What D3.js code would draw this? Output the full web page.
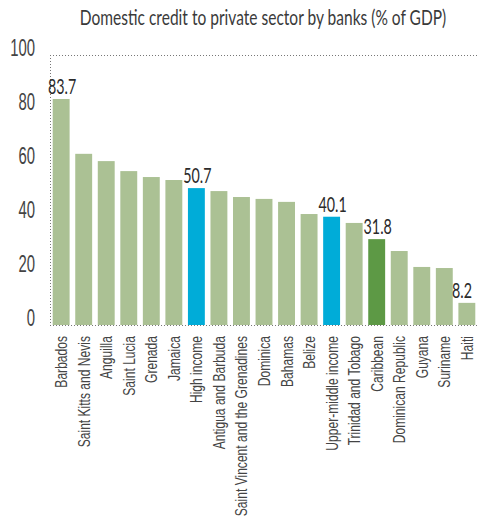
<!DOCTYPE html>
<html>
<head>
<meta charset="utf-8">
<script src="https://cdn.jsdelivr.net/npm/d3@7"></script>
<style>
  body { margin: 0; background: #fff; }
  svg { display: block; font-family: Lato, "Open Sans", sans-serif; }
</style>
</head>
<body>
<div id="chart"></div>
<script>
// values
const categories = [
  'Barbados', 'Saint Kitts and Nevis', 'Anguilla', 'Saint Lucia', 'Grenada', 'Jamaica',
  'High income', 'Antigua and Barbuda', 'Saint Vincent and the Grenadines', 'Dominica',
  'Bahamas', 'Belize', 'Upper-middle income', 'Trinidad and Tobago', 'Caribbean',
  'Dominican Republic', 'Guyana', 'Suriname', 'Haiti'
];
const values = [83.7, 63.4, 60.7, 57.0, 54.8, 53.7, 50.7, 49.6, 47.4, 46.7, 45.6, 41.1, 40.1, 37.8, 31.8, 27.4, 21.5, 21.1, 8.2];
const kinds = ['c', 'c', 'c', 'c', 'c', 'c', 'inc', 'c', 'c', 'c', 'c', 'c', 'inc', 'c', 'reg', 'c', 'c', 'c', 'c'];
const labelled = ['Barbados', 'High income', 'Upper-middle income', 'Caribbean', 'Haiti'];
const yTicks = [0, 20, 40, 60, 80, 100];
const title = 'Domestic credit to private sector by banks (% of GDP)';

const width = 478;
const height = 521;
const margin = { top: 55, right: 0, bottom: 196, left: 50 };

const colors = { c: '#abc194', inc: '#00acd8', reg: '#5d9945' };
// the original uses a condensed face; squeeze Lato horizontally instead
const squeeze = 0.71;

const data = categories.map((name, i) => ({ name, value: values[i], kind: kinds[i] }));

const svg = d3.select('#chart')
  .append('svg')
  .attr('width', width)
  .attr('height', height);

const xScale = d3.scaleBand()
  .domain(categories)
  .range([margin.left, width - margin.right])
  .paddingInner(0.25)
  .paddingOuter(0.12);

const yScale = d3.scaleLinear()
  .domain([0, 100])
  .range([height - margin.bottom, margin.top]);

// title
svg.append('text')
  .attr('transform', 'translate(263,25) scale(0.74,1)')
  .attr('text-anchor', 'middle')
  .attr('font-size', 21)
  .attr('fill', '#3a3a3a')
  .text(title);

// dotted frame: top line, left axis, baseline
const frame = svg.append('g')
  .attr('stroke', '#777')
  .attr('stroke-width', 1)
  .attr('stroke-dasharray', '1,2');
frame.append('line')
  .attr('x1', margin.left).attr('x2', width)
  .attr('y1', yScale(100) + 0.5).attr('y2', yScale(100) + 0.5);
frame.append('line')
  .attr('x1', margin.left + 0.5).attr('x2', margin.left + 0.5)
  .attr('y1', yScale(100)).attr('y2', yScale(0));
frame.append('line')
  .attr('x1', margin.left).attr('x2', width)
  .attr('y1', yScale(0) + 0.5).attr('y2', yScale(0) + 0.5);

// y tick labels
const yAxis = svg.append('g')
  .attr('transform', `translate(${margin.left - 15}, 0)`)
  .call(d3.axisLeft(yScale).tickValues(yTicks).tickSize(0).tickPadding(0));
yAxis.select('.domain').remove();
yAxis.selectAll('text')
  .attr('dy', 0)
  .attr('font-family', null)
  .attr('font-size', 24)
  .attr('font-weight', 300)
  .attr('fill', '#444')
  .attr('transform', 'scale(0.62,1)');

// bars
svg.append('g')
  .selectAll('rect')
  .data(data)
  .join('rect')
  .attr('x', (d) => xScale(d.name))
  .attr('y', (d) => yScale(d.value))
  .attr('width', xScale.bandwidth())
  .attr('height', (d) => yScale(0) - yScale(d.value))
  .attr('fill', (d) => colors[d.kind]);

// value labels
svg.append('g')
  .selectAll('text')
  .data(data.filter((d) => labelled.includes(d.name)))
  .join('text')
  .attr('transform', (d) => {
    const x = Math.min(xScale(d.name) + xScale.bandwidth() / 2 + 1, width - 16);
    return `translate(${x},${yScale(d.value) - 5}) scale(0.68,1)`;
  })
  .attr('text-anchor', 'middle')
  .attr('font-size', 21)
  .attr('fill', '#2b2b2b')
  .text((d) => d.value.toFixed(1));

// category labels
const xAxis = svg.append('g')
  .attr('transform', `translate(0, ${yScale(0) + 11})`)
  .call(d3.axisBottom(xScale).tickSize(0).tickPadding(0));
xAxis.select('.domain').remove();
xAxis.selectAll('text')
  .attr('font-family', null)
  .attr('font-size', 17)
  .attr('fill', '#444')
  .attr('text-anchor', 'end')
  .attr('dy', '0.35em')
  .attr('transform', `rotate(-90) scale(${squeeze},1)`)
  .attr('x', 0)
  .attr('y', 0);
</script>
</body>
</html>
